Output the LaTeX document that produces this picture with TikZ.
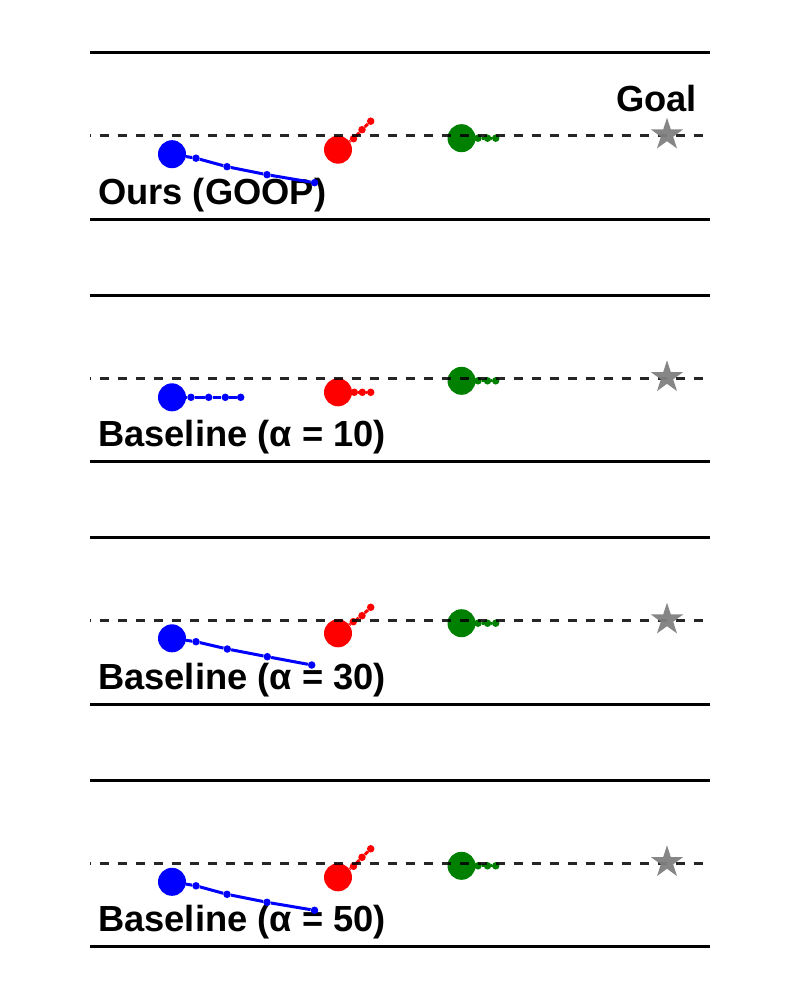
\documentclass[tikz,border=0pt]{standalone}
\usepackage{fontspec}
\setmainfont{Liberation Sans}
\usetikzlibrary{shapes.geometric}
\definecolor{pgreen}{RGB}{0,128,0}
\definecolor{pgray}{RGB}{128,128,128}
\tikzset{
  bigdot/.style={circle,inner sep=0pt,minimum size=28pt,fill=#1,draw=none},
  smalldot/.style={circle,inner sep=0pt,minimum size=7.5pt,fill=#1,draw=none},
  traj/.style={draw=#1,line width=3pt},
  rail/.style={draw=black,line width=3pt},
  midline/.style={draw=black,line width=2.8pt,dash pattern=on 9.5pt off 8.5pt,dash phase=8.5pt,draw opacity=0.85},
  lbl/.style={font=\fontsize{36.3}{43}\selectfont\bfseries,inner sep=0pt},
  goalstar/.style={star,star points=5,star point ratio=2.618,inner sep=0pt,minimum size=34pt,fill=pgray,draw=none,fill opacity=0.95}
}
% #1 id, #2 dashed-line y, #3 label, #4 blue big, #5 blue dots, #6 red big, #7 red dots
\newcommand\goopPanel[7]{%
\begin{scope}[shift={(0,#2)}]
  \coordinate (tl#1) at (90,-83);  \coordinate (tr#1) at (710,-83);
  \coordinate (bl#1) at (90,83.5); \coordinate (br#1) at (710,83.5);
  \coordinate (dl#1) at (90,0);    \coordinate (dr#1) at (710,0);
  \draw[rail] (tl#1) -- (tr#1);
  \draw[rail] (bl#1) -- (br#1);
  \node[lbl,anchor=base west] (lab#1) at (98,68.5) {#3};
  % blue
  \node[bigdot=blue] (b#1) at (#4) {};
  \foreach [count=\i] \p in {#5} \node[smalldot=blue] (b#1-\i) at (\p) {};
  \draw[traj=blue] (b#1) -- (b#1-1) -- (b#1-2) -- (b#1-3) -- (b#1-4);
  % red
  \node[bigdot=red] (r#1) at (#6) {};
  \foreach [count=\i] \p in {#7} \node[smalldot=red] (r#1-\i) at (\p) {};
  \draw[traj=red] (r#1) -- (r#1-1) -- (r#1-2) -- (r#1-3);
  % green
  \node[bigdot=pgreen] (g#1) at (461.5,2.5) {};
  \node[smalldot=pgreen] (g#1-1) at (478,2.5) {};
  \node[smalldot=pgreen] (g#1-2) at (487.5,2.5) {};
  \node[smalldot=pgreen] (g#1-3) at (495.7,2.5) {};
  \draw[traj=pgreen] (g#1) -- (g#1-1) -- (g#1-2) -- (g#1-3);
  \draw[midline] (dl#1) -- (dr#1);
  \node[goalstar] (star#1) at (667,-1) {};
\end{scope}}
\begin{document}
\begin{tikzpicture}[x=1pt,y=-1pt]
\useasboundingbox (0,0) rectangle (800,1000);
\goopPanel{A}{135.7}{Ours (GOOP)}{172,18.5}{{196,22.5},{227,31},{267,39},{314.5,47}}{338,14}{{353.5,3},{362,-6},{370.7,-14.5}}
\node[lbl,anchor=base east] (goal) at (697,111.7) {Goal};
\goopPanel{B}{378.3}{Baseline (α = 10)}{172,19}{{191,19},{208.7,19},{225.3,19},{240.7,19}}{338,14}{{354.3,14},{362.3,14},{370.7,14}}
\goopPanel{C}{620.7}{Baseline (α = 30)}{172,17.6}{{196,21},{227.3,28.3},{267.3,36},{311.7,44.3}}{338,12.6}{{353.3,1},{362,-5},{370.7,-13.4}}
\goopPanel{D}{863.3}{Baseline (α = 50)}{172,18.5}{{196,22.5},{227,31},{267,39},{314.5,47}}{338,14}{{353.5,3},{362,-6},{370.7,-14.5}}
\end{tikzpicture}
\end{document}
